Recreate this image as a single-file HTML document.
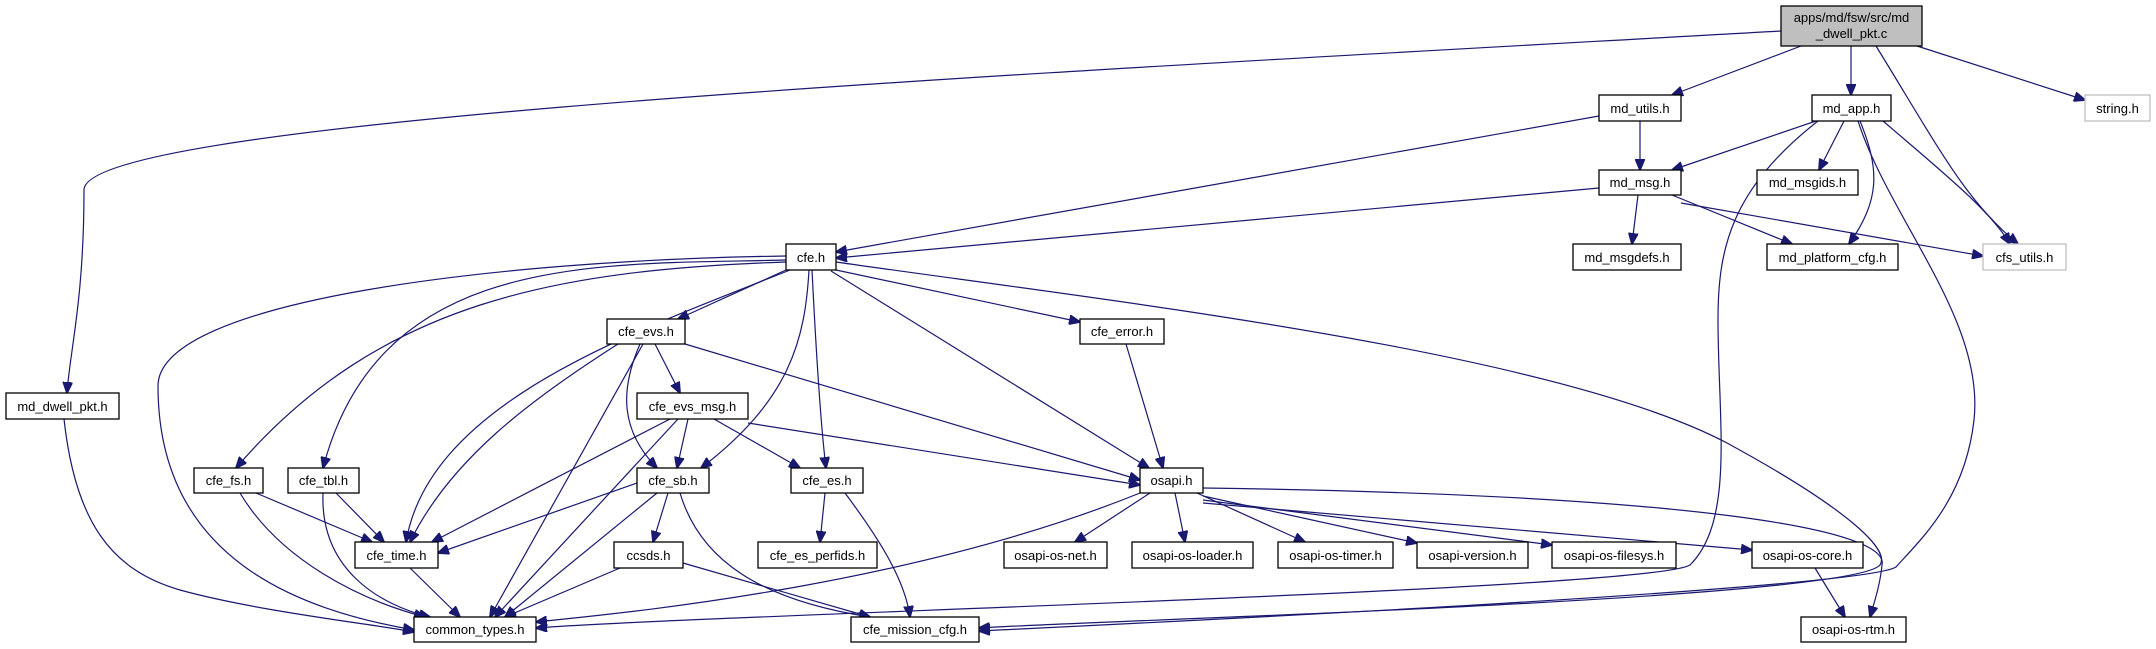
<!DOCTYPE html>
<html><head><meta charset="utf-8"><style>
html,body{margin:0;padding:0;background:#fff;}
svg{display:block;}
text{font-family:"Liberation Sans",sans-serif;font-size:13px;fill:#000;}
.e{fill:none;stroke:#191970;stroke-width:1.2;marker-end:url(#a);}
.n{fill:#fff;stroke:#000;stroke-width:1.3;}
.g{fill:#fff;stroke:#bfbfbf;stroke-width:1.3;}
</style></head><body>
<svg width="2156" height="649" viewBox="0 0 2156 649" xmlns="http://www.w3.org/2000/svg">
<defs><marker id="a" markerUnits="userSpaceOnUse" markerWidth="12" markerHeight="10" refX="11" refY="5" orient="auto"><path d="M0,0 L12,5 L0,10 z" fill="#191970" stroke="#191970"/></marker></defs>
<g>
<!-- main edges -->
<path class="e" d="M1781,31 C1000,75 84,120 84,190 C84,300 70,350 67,393"/>
<path class="e" d="M1801,46 L1672,95"/>
<path class="e" d="M1851,46 L1851,95"/>
<path class="e" d="M1876,46 C1940,150 1965,200 2018,244"/>
<path class="e" d="M1917,46 L2085,100"/>
<!-- md_utils -->
<path class="e" d="M1640,121 L1640,170"/>
<path class="e" d="M1599,116 L836,252"/>
<!-- md_app -->
<path class="e" d="M1816,121 L1672,170"/>
<path class="e" d="M1844,121 L1819,170"/>
<path class="e" d="M1860,121 C1880,170 1880,200 1849,244"/>
<path class="e" d="M1883,121 C1940,170 1990,210 2010,244"/>
<path class="e" d="M1818,121 C1730,190 1718,250 1718,320 C1718,420 1735,520 1690,565 C1650,590 700,615 536,628"/>
<path class="e" d="M1858,121 C1890,220 1985,320 1974,420 C1965,500 1920,540 1896,567 C1860,590 1100,625 979,631"/>
<!-- md_msg -->
<path class="e" d="M1599,188 L836,258"/>
<path class="e" d="M1638,195 L1632,244"/>
<path class="e" d="M1672,195 L1792,244"/>
<path class="e" d="M1681,203 L1983,256"/>
<!-- cfe.h -->
<path class="e" d="M786,270 L678,319"/>
<path class="e" d="M836,270 L1080,322"/>
<path class="e" d="M831,271 L1149,468"/>
<path class="e" d="M812,270 C815,330 820,420 826,468"/>
<path class="e" d="M809,270 C805,340 790,400 701,468"/>
<path class="e" d="M786,260 C600,265 380,250 323,468"/>
<path class="e" d="M786,262 C560,270 380,300 236,468"/>
<path class="e" d="M790,270 C640,330 430,400 406,542"/>
<path class="e" d="M786,256 C500,260 158,300 158,386 C158,560 300,610 414,630"/>
<path class="e" d="M836,262 C1100,300 1550,350 1727,443 C1850,510 1890,550 1880,565 C1850,600 1100,620 979,628"/>
<!-- cfe_evs -->
<path class="e" d="M655,344 L680,393"/>
<path class="e" d="M640,344 C620,390 620,430 657,468"/>
<path class="e" d="M618,344 C530,400 450,460 410,542"/>
<path class="e" d="M643,344 L490,617"/>
<path class="e" d="M685,344 L1140,480"/>
<!-- cfe_evs_msg -->
<path class="e" d="M670,419 L432,542"/>
<path class="e" d="M678,419 L495,617"/>
<path class="e" d="M688,419 L677,468"/>
<path class="e" d="M714,419 L800,468"/>
<path class="e" d="M748,423 L1140,485"/>
<!-- fs, tbl -->
<path class="e" d="M256,493 L372,542"/>
<path class="e" d="M240,493 C280,560 360,600 425,617"/>
<path class="e" d="M336,493 L384,542"/>
<path class="e" d="M323,493 C320,570 380,605 430,617"/>
<!-- cfe_sb -->
<path class="e" d="M637,483 L438,553"/>
<path class="e" d="M668,493 L653,542"/>
<path class="e" d="M657,493 L505,617"/>
<path class="e" d="M680,493 C700,560 760,600 870,617"/>
<!-- cfe_es -->
<path class="e" d="M825,493 L820,542"/>
<path class="e" d="M845,493 C880,540 905,580 910,617"/>
<!-- time, ccsds -->
<path class="e" d="M410,568 L460,617"/>
<path class="e" d="M620,568 L505,617"/>
<path class="e" d="M683,563 L870,617"/>
<!-- md_dwell_pkt -->
<path class="e" d="M64,419 C75,520 110,570 180,590 C260,612 380,625 414,632"/>
<!-- cfe_error -->
<path class="e" d="M1126,344 L1163,468"/>
<!-- osapi -->
<path class="e" d="M1140,493 C900,590 600,615 536,622"/>
<path class="e" d="M1150,493 L1075,542"/>
<path class="e" d="M1175,493 L1185,542"/>
<path class="e" d="M1197,493 L1305,542"/>
<path class="e" d="M1203,496 L1417,543"/>
<path class="e" d="M1203,500 L1552,545"/>
<path class="e" d="M1203,503 L1752,550"/>
<path class="e" d="M1203,488 C1700,495 1890,530 1882,565 C1880,585 1875,600 1870,617"/>
<path class="e" d="M1815,568 L1845,617"/>
</g>
<g>
<rect x="1781" y="6" width="141" height="40" fill="#bfbfbf" stroke="#000" stroke-width="1.3"/>
<text x="1851.5" y="22" text-anchor="middle">apps/md/fsw/src/md</text>
<text x="1851.5" y="38" text-anchor="middle">_dwell_pkt.c</text>

<rect class="n" x="1599" y="95" width="82" height="26"/><text x="1640" y="113" text-anchor="middle">md_utils.h</text>
<rect class="n" x="1812" y="95" width="79" height="26"/><text x="1851.5" y="113" text-anchor="middle">md_app.h</text>
<rect class="g" x="2085" y="95" width="65" height="26"/><text x="2117.5" y="113" text-anchor="middle">string.h</text>
<rect class="n" x="1599" y="170" width="82" height="25"/><text x="1640" y="187" text-anchor="middle">md_msg.h</text>
<rect class="n" x="1757" y="170" width="101" height="25"/><text x="1807.5" y="187" text-anchor="middle">md_msgids.h</text>
<rect class="n" x="1573" y="244" width="108" height="26"/><text x="1627" y="262" text-anchor="middle">md_msgdefs.h</text>
<rect class="n" x="1767" y="244" width="131" height="26"/><text x="1832.5" y="262" text-anchor="middle">md_platform_cfg.h</text>
<rect class="g" x="1983" y="244" width="83" height="26"/><text x="2024.5" y="262" text-anchor="middle">cfs_utils.h</text>
<rect class="n" x="786" y="244" width="50" height="26"/><text x="811" y="262" text-anchor="middle">cfe.h</text>
<rect class="n" x="1080" y="319" width="84" height="25"/><text x="1122" y="336" text-anchor="middle">cfe_error.h</text>
<rect class="n" x="607" y="319" width="78" height="25"/><text x="646" y="336" text-anchor="middle">cfe_evs.h</text>
<rect class="n" x="6" y="393" width="113" height="26"/><text x="62.5" y="411" text-anchor="middle">md_dwell_pkt.h</text>
<rect class="n" x="637" y="393" width="111" height="26"/><text x="692.5" y="411" text-anchor="middle">cfe_evs_msg.h</text>
<rect class="n" x="194" y="468" width="69" height="25"/><text x="228.5" y="485" text-anchor="middle">cfe_fs.h</text>
<rect class="n" x="288" y="468" width="71" height="25"/><text x="323.5" y="485" text-anchor="middle">cfe_tbl.h</text>
<rect class="n" x="637" y="468" width="72" height="25"/><text x="673" y="485" text-anchor="middle">cfe_sb.h</text>
<rect class="n" x="791" y="468" width="72" height="25"/><text x="827" y="485" text-anchor="middle">cfe_es.h</text>
<rect class="n" x="1140" y="468" width="63" height="25"/><text x="1171.5" y="485" text-anchor="middle">osapi.h</text>
<rect class="n" x="355" y="542" width="83" height="26"/><text x="396.5" y="560" text-anchor="middle">cfe_time.h</text>
<rect class="n" x="614" y="542" width="69" height="26"/><text x="648.5" y="560" text-anchor="middle">ccsds.h</text>
<rect class="n" x="758" y="542" width="119" height="26"/><text x="817.5" y="560" text-anchor="middle">cfe_es_perfids.h</text>
<rect class="n" x="1004" y="542" width="103" height="26"/><text x="1055.5" y="560" text-anchor="middle">osapi-os-net.h</text>
<rect class="n" x="1132" y="542" width="121" height="26"/><text x="1192.5" y="560" text-anchor="middle">osapi-os-loader.h</text>
<rect class="n" x="1278" y="542" width="115" height="26"/><text x="1335.5" y="560" text-anchor="middle">osapi-os-timer.h</text>
<rect class="n" x="1417" y="542" width="111" height="26"/><text x="1472.5" y="560" text-anchor="middle">osapi-version.h</text>
<rect class="n" x="1552" y="542" width="124" height="26"/><text x="1614" y="560" text-anchor="middle">osapi-os-filesys.h</text>
<rect class="n" x="1752" y="542" width="111" height="26"/><text x="1807.5" y="560" text-anchor="middle">osapi-os-core.h</text>
<rect class="n" x="414" y="617" width="122" height="25"/><text x="475" y="634" text-anchor="middle">common_types.h</text>
<rect class="n" x="851" y="617" width="128" height="25"/><text x="915" y="634" text-anchor="middle">cfe_mission_cfg.h</text>
<rect class="n" x="1801" y="617" width="105" height="25"/><text x="1853.5" y="634" text-anchor="middle">osapi-os-rtm.h</text>
</g>
</svg>
</body></html>
